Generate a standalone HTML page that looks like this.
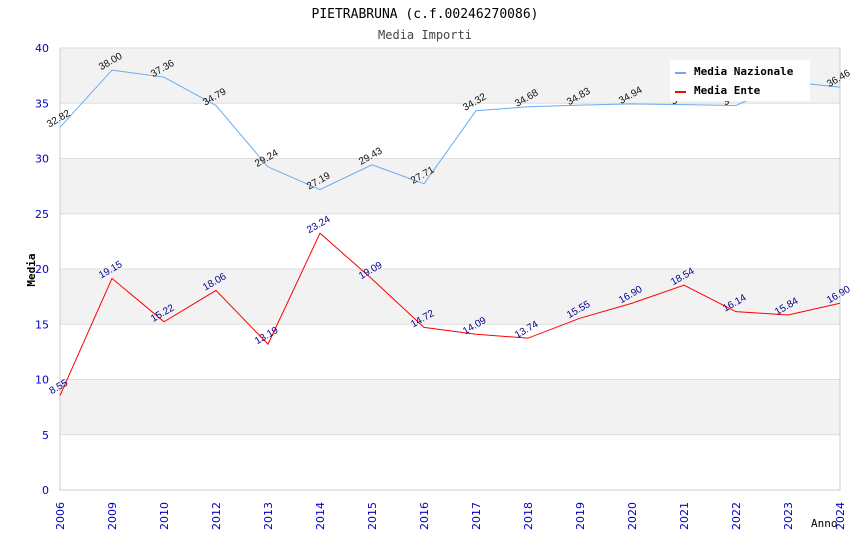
<!DOCTYPE html>
<html><head><meta charset="utf-8"><style>
body{margin:0;background:#fff}
svg{font-family:"DejaVu Sans Mono","Liberation Mono",monospace}
</style></head><body>
<svg id="c" width="850" height="550">
<text x="425" y="18" text-anchor="middle" font-size="13">PIETRABRUNA (c.f.00246270086)</text>
<text x="425" y="39" text-anchor="middle" font-size="12" fill="#444">Media Importi</text>
<text transform="translate(35,270) rotate(-90)" text-anchor="middle" font-size="11" font-weight="bold">Media</text>
<text x="811" y="527" font-size="11">Anno</text>
<g id="g"></g>
</svg>
<script>
const years=["2006","2009","2010","2012","2013","2014","2015","2016","2017","2018","2019","2020","2021","2022","2023","2024"];
const nazionale=[32.82,38.00,37.36,34.79,29.24,27.19,29.43,27.71,34.32,34.68,34.83,34.94,34.88,34.80,36.95,36.46];
const ente=[8.55,19.15,15.22,18.06,13.19,23.24,19.09,14.72,14.09,13.74,15.55,16.90,18.54,16.14,15.84,16.90];
const yTicks=[0,5,10,15,20,25,30,35,40];
const L=60,R=840,T=48,B=490,ymax=40;
const NS="http://www.w3.org/2000/svg";
const g=document.getElementById('g');
const xs=i=>L+i*(R-L)/(years.length-1);
const ys=v=>B-v*(B-T)/ymax;
function mk(t,a,p){const e=document.createElementNS(NS,t);for(const k in a)e.setAttribute(k,a[k]);(p||g).appendChild(e);return e;}
for(let i=0;i<yTicks.length-1;i++){
  const r=mk('rect',{x:L,y:ys(yTicks[i+1]),width:R-L,height:ys(yTicks[i])-ys(yTicks[i+1]),fill:i%2?'#f2f2f2':'#fff'});
  
  
}
yTicks.forEach(v=>{
  const l=mk('line',{x1:L,x2:R,y1:ys(v),y2:ys(v),stroke:'#ddd'});
  
  
  const t=mk('text',{x:L-11,y:ys(v)+4,'text-anchor':'end','font-size':11,fill:'#00c','font-family':'DejaVu Sans'});
  t.textContent=v;
  
  
});
const ax=mk('path',{d:`M${L} ${T}V${B}H${R}V${T}`,fill:'none',stroke:'#ccc'});


years.forEach((y,i)=>{
  const t=mk('text',{transform:`translate(${xs(i)+4},${B+40}) rotate(-90)`,'font-size':11,fill:'#00c','font-family':'DejaVu Sans'});
  t.textContent=y;
  
  
});
function series(vals,color,lc,name){
  const p=mk('polyline',{points:vals.map((v,i)=>xs(i)+','+ys(v)).join(' '),fill:'none',stroke:color,'stroke-width':1});
  
  
  vals.forEach((v,i)=>{
    const t=mk('text',{transform:`translate(${xs(i)},${ys(v)-6}) rotate(-30)`,'text-anchor':'middle','font-size':10,fill:lc,'font-family':'Liberation Sans'});
    t.textContent=v.toFixed(2);
    
    
  });
}
series(nazionale,'#6aaaf0','#111','nazionale');
series(ente,'#f00','#00008b','ente');
const lg=mk('g',{});


mk('rect',{x:670,y:60,width:140,height:41,fill:'#fff'},lg);
[['Media Nazionale','#6aaaf0',73],['Media Ente','#f00',92]].forEach(([n,c,y])=>{
  const e=mk('g',{},lg);
  
  
  mk('line',{x1:675,x2:686,y1:y,y2:y,stroke:c,'stroke-width':2},e);
  const t=mk('text',{x:694,y:y+2,'font-size':11,'font-weight':'bold'},e);
  t.textContent=n;
});
</script>
</body></html>
